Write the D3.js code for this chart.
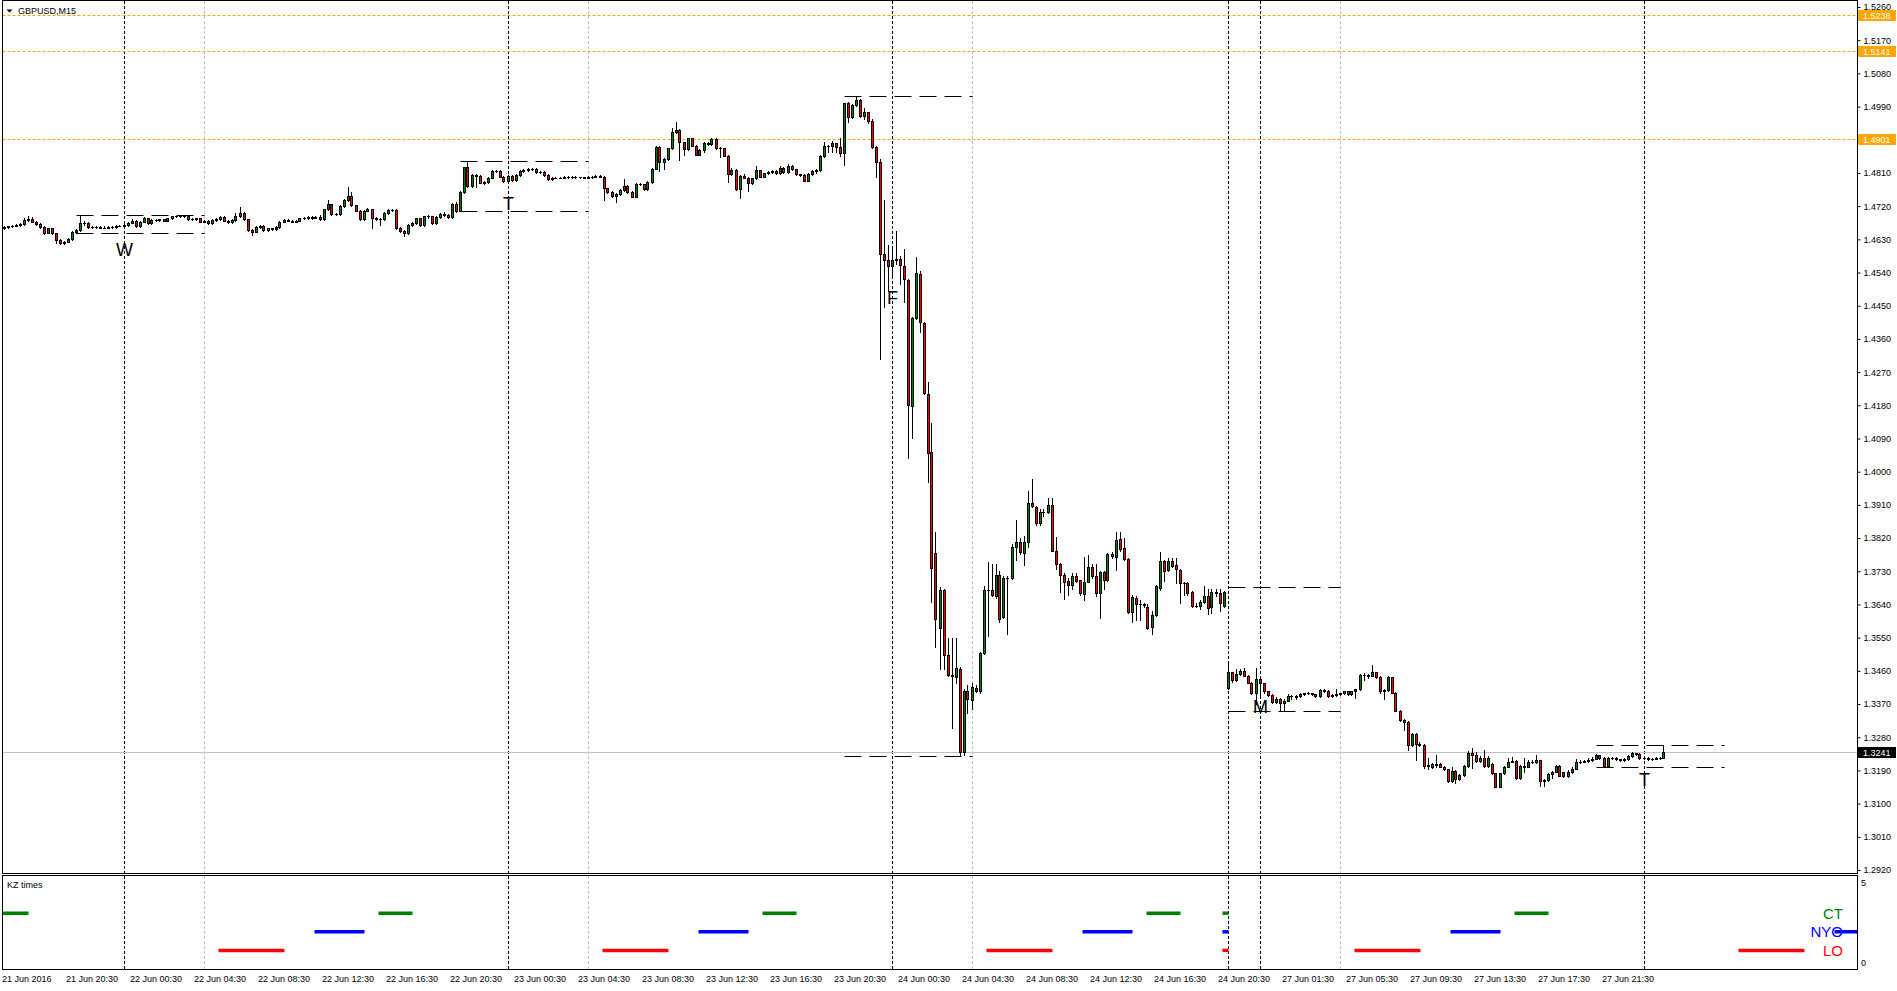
<!doctype html>
<html>
<head>
<meta charset="utf-8">
<script src="https://d3js.org/d3.v7.min.js"></script>
<style>
  body { margin:0; background:#fff; }
  svg { display:block; font-family:"Liberation Sans", Arial, sans-serif; }
</style>
</head>
<body>
<svg id="chart" width="1897" height="991"></svg>
<script>
// GBPUSD M15 bars, one row per bar: [open, high, low, close]
// 21 Jun 16:30 .. 23:45
const day21 = [
[1.4661,1.4666,1.4659,1.4663],[1.4663,1.4667,1.4661,1.4665],[1.4665,1.4669,1.4663,1.4667],[1.4667,1.4671,1.4665,1.4668],
[1.4668,1.4673,1.4666,1.4671],[1.4671,1.4689,1.4669,1.4683],[1.4683,1.4692,1.4681,1.4684],[1.4684,1.4690,1.4676,1.4678],
[1.4678,1.4680,1.4670,1.4672],[1.4672,1.4674,1.4662,1.4664],[1.4664,1.4666,1.4645,1.4648],[1.4648,1.4662,1.4646,1.4660],
[1.4660,1.4662,1.4644,1.4646],[1.4646,1.4648,1.4619,1.4628],[1.4628,1.4630,1.4617,1.4621],[1.4621,1.4626,1.4618,1.4624],
[1.4624,1.4633,1.4622,1.4630],[1.4630,1.4653,1.4628,1.4651],[1.4651,1.4658,1.4647,1.4655],[1.4655,1.4696,1.4653,1.4673],
[1.4673,1.4680,1.4670,1.4675],[1.4675,1.4677,1.4662,1.4664],[1.4664,1.4667,1.4662,1.4664],[1.4664,1.4666,1.4661,1.4663],
[1.4663,1.4665,1.4660,1.4662],[1.4662,1.4665,1.4660,1.4662],[1.4662,1.4666,1.4660,1.4664],[1.4664,1.4666,1.4662,1.4664],
[1.4664,1.4669,1.4662,1.4667],[1.4667,1.4669,1.4665,1.4667]
];
// 22 Jun
const day22 = [
[1.4667,1.4671,1.4665,1.4669],[1.4669,1.4677,1.4667,1.4675],[1.4675,1.4684,1.4673,1.4681],[1.4681,1.4683,1.4664,1.4666],
[1.4666,1.4680,1.4664,1.4678],[1.4678,1.4690,1.4676,1.4687],[1.4687,1.4689,1.4671,1.4673],[1.4673,1.4684,1.4671,1.4682],
[1.4682,1.4685,1.4680,1.4682],[1.4682,1.4686,1.4680,1.4684],[1.4684,1.4686,1.4679,1.4681],[1.4681,1.4689,1.4679,1.4687],
[1.4687,1.4694,1.4685,1.4692],[1.4692,1.4694,1.4690,1.4692],[1.4692,1.4695,1.4690,1.4692],[1.4692,1.4694,1.4690,1.4692],
[1.4692,1.4694,1.4682,1.4684],[1.4684,1.4687,1.4682,1.4685],[1.4685,1.4689,1.4683,1.4687],[1.4687,1.4689,1.4676,1.4678],
[1.4678,1.4683,1.4676,1.4681],[1.4681,1.4683,1.4671,1.4673],[1.4673,1.4685,1.4671,1.4683],[1.4683,1.4687,1.4681,1.4684],
[1.4684,1.4692,1.4682,1.4690],[1.4690,1.4692,1.4679,1.4681],[1.4681,1.4683,1.4674,1.4676],[1.4676,1.4685,1.4674,1.4683],
[1.4683,1.4701,1.4681,1.4692],[1.4692,1.4719,1.4690,1.4701],[1.4701,1.4703,1.4682,1.4684],[1.4684,1.4686,1.4652,1.4654],
[1.4654,1.4657,1.4642,1.4651],[1.4651,1.4666,1.4649,1.4664],[1.4664,1.4668,1.4662,1.4666],[1.4666,1.4668,1.4653,1.4655],
[1.4655,1.4662,1.4653,1.4660],[1.4660,1.4662,1.4655,1.4657],[1.4657,1.4666,1.4655,1.4664],[1.4664,1.4680,1.4662,1.4678],
[1.4678,1.4685,1.4676,1.4683],[1.4683,1.4686,1.4679,1.4681],[1.4681,1.4683,1.4676,1.4678],[1.4678,1.4683,1.4676,1.4681],
[1.4681,1.4689,1.4679,1.4687],[1.4687,1.4690,1.4684,1.4687],[1.4687,1.4694,1.4685,1.4690],[1.4690,1.4692,1.4686,1.4689],
[1.4689,1.4693,1.4687,1.4690],[1.4690,1.4697,1.4683,1.4685],[1.4685,1.4713,1.4683,1.4711],[1.4711,1.4737,1.4709,1.4725],
[1.4725,1.4727,1.4697,1.4699],[1.4699,1.4702,1.4697,1.4699],[1.4699,1.4723,1.4697,1.4721],[1.4721,1.4739,1.4719,1.4737],
[1.4737,1.4773,1.4735,1.4748],[1.4748,1.4759,1.4720,1.4722],[1.4722,1.4724,1.4706,1.4708],[1.4708,1.4710,1.4682,1.4684],
[1.4684,1.4710,1.4682,1.4708],[1.4708,1.4714,1.4706,1.4711],[1.4711,1.4713,1.4660,1.4687],[1.4687,1.4690,1.4682,1.4685],
[1.4685,1.4688,1.4669,1.4684],[1.4684,1.4703,1.4682,1.4701],[1.4701,1.4712,1.4699,1.4710],[1.4710,1.4713,1.4707,1.4710],
[1.4710,1.4712,1.4658,1.4660],[1.4660,1.4664,1.4650,1.4652],[1.4652,1.4655,1.4640,1.4646],[1.4646,1.4671,1.4644,1.4669],
[1.4669,1.4676,1.4667,1.4673],[1.4673,1.4689,1.4671,1.4687],[1.4687,1.4689,1.4666,1.4668],[1.4668,1.4694,1.4666,1.4692],
[1.4692,1.4697,1.4689,1.4692],[1.4692,1.4694,1.4672,1.4674],[1.4674,1.4692,1.4672,1.4690],[1.4690,1.4701,1.4688,1.4699],
[1.4699,1.4703,1.4694,1.4696],[1.4696,1.4699,1.4688,1.4690],[1.4690,1.4729,1.4688,1.4727],[1.4727,1.4732,1.4705,1.4707],
[1.4707,1.4761,1.4707,1.4759],[1.4759,1.4827,1.4757,1.4825],[1.4825,1.4843,1.4773,1.4775],[1.4775,1.4807,1.4773,1.4805],
[1.4805,1.4808,1.4771,1.4803],[1.4803,1.4805,1.4782,1.4784],[1.4784,1.4789,1.4781,1.4786],[1.4786,1.4799,1.4784,1.4797],
[1.4797,1.4817,1.4795,1.4815],[1.4815,1.4819,1.4812,1.4815],[1.4815,1.4818,1.4798,1.4800],[1.4800,1.4802,1.4786,1.4788]
];
// 23 Jun
const day23 = [
[1.4788,1.4804,1.4786,1.4802],[1.4802,1.4804,1.4789,1.4791],[1.4791,1.4807,1.4789,1.4805],[1.4805,1.4817,1.4803,1.4815],
[1.4815,1.4821,1.4813,1.4818],[1.4818,1.4823,1.4816,1.4820],[1.4820,1.4824,1.4818,1.4822],[1.4822,1.4824,1.4810,1.4812],
[1.4812,1.4815,1.4810,1.4812],[1.4812,1.4814,1.4803,1.4805],[1.4805,1.4807,1.4792,1.4794],[1.4794,1.4799,1.4792,1.4797],
[1.4797,1.4799,1.4795,1.4797],[1.4797,1.4799,1.4795,1.4797],[1.4797,1.4801,1.4795,1.4799],[1.4799,1.4802,1.4797,1.4800],
[1.4800,1.4802,1.4797,1.4799],[1.4799,1.4801,1.4796,1.4798],[1.4798,1.4800,1.4796,1.4798],[1.4798,1.4800,1.4795,1.4797],
[1.4797,1.4801,1.4795,1.4799],[1.4799,1.4802,1.4797,1.4800],[1.4800,1.4805,1.4798,1.4802],[1.4802,1.4804,1.4798,1.4800],
[1.4800,1.4802,1.4737,1.4768],[1.4768,1.4770,1.4757,1.4759],[1.4759,1.4761,1.4746,1.4748],[1.4748,1.4755,1.4730,1.4752],
[1.4752,1.4766,1.4750,1.4764],[1.4764,1.4793,1.4762,1.4775],[1.4775,1.4777,1.4757,1.4759],[1.4759,1.4761,1.4744,1.4746],
[1.4746,1.4782,1.4744,1.4780],[1.4780,1.4783,1.4777,1.4779],[1.4779,1.4781,1.4764,1.4766],[1.4766,1.4787,1.4764,1.4785],
[1.4785,1.4824,1.4783,1.4822],[1.4822,1.4883,1.4820,1.4881],[1.4881,1.4883,1.4814,1.4841],[1.4841,1.4850,1.4820,1.4848],
[1.4848,1.4879,1.4846,1.4877],[1.4877,1.4933,1.4875,1.4920],[1.4920,1.4947,1.4918,1.4927],[1.4927,1.4929,1.4845,1.4893],
[1.4893,1.4895,1.4859,1.4875],[1.4875,1.4906,1.4873,1.4904],[1.4904,1.4906,1.4882,1.4884],[1.4884,1.4886,1.4858,1.4860],
[1.4860,1.4874,1.4858,1.4872],[1.4872,1.4893,1.4866,1.4891],[1.4891,1.4894,1.4886,1.4888],[1.4888,1.4904,1.4886,1.4902],
[1.4902,1.4904,1.4875,1.4877],[1.4877,1.4880,1.4852,1.4877],[1.4877,1.4879,1.4855,1.4857],[1.4857,1.4859,1.4786,1.4806],
[1.4806,1.4824,1.4804,1.4818],[1.4818,1.4820,1.4764,1.4766],[1.4766,1.4804,1.4741,1.4802],[1.4802,1.4806,1.4795,1.4797],
[1.4797,1.4799,1.4761,1.4782],[1.4782,1.4797,1.4780,1.4795],[1.4795,1.4830,1.4793,1.4817],[1.4817,1.4819,1.4798,1.4800],
[1.4800,1.4811,1.4798,1.4809],[1.4809,1.4815,1.4807,1.4812],[1.4812,1.4818,1.4810,1.4815],[1.4815,1.4817,1.4807,1.4809],
[1.4809,1.4830,1.4807,1.4824],[1.4824,1.4826,1.4811,1.4813],[1.4813,1.4833,1.4811,1.4829],[1.4829,1.4831,1.4818,1.4820],
[1.4820,1.4822,1.4804,1.4806],[1.4806,1.4808,1.4801,1.4804],[1.4804,1.4806,1.4787,1.4789],[1.4789,1.4809,1.4787,1.4807],
[1.4807,1.4817,1.4805,1.4815],[1.4815,1.4820,1.4811,1.4818],[1.4818,1.4858,1.4816,1.4856],[1.4856,1.4895,1.4854,1.4883],
[1.4883,1.4887,1.4868,1.4883],[1.4883,1.4897,1.4868,1.4890],[1.4890,1.4892,1.4868,1.4881],[1.4881,1.4905,1.4856,1.4865],
[1.4865,1.5001,1.4831,1.4999],[1.4999,1.5003,1.4948,1.4961],[1.4961,1.4996,1.4959,1.4994],[1.4994,1.5020,1.4992,1.5008],
[1.5008,1.5010,1.4963,1.4965],[1.4965,1.4985,1.4956,1.4974],[1.4974,1.4976,1.4945,1.4951],[1.4951,1.4955,1.4879,1.4881],
[1.4881,1.4883,1.4798,1.4841],[1.4841,1.4848,1.4305,1.4590],[1.4590,1.4737,1.4446,1.4574],[1.4574,1.4614,1.4490,1.4559]
];
// 24 Jun 00:00 .. 20:45
const day24 = [
[1.4559,1.4609,1.4530,1.4574],[1.4574,1.4653,1.4564,1.4576],[1.4577,1.4584,1.4510,1.4561],[1.4559,1.4604,1.4461,1.4522],
[1.4520,1.4522,1.4037,1.4180],[1.4177,1.4420,1.4091,1.4417],[1.4417,1.4582,1.4414,1.4538],[1.4535,1.4545,1.4380,1.4405],
[1.4402,1.4405,1.4210,1.4214],[1.4210,1.4244,1.3973,1.4050],[1.4054,1.4131,1.3647,1.3738],[1.3779,1.3837,1.3524,1.3600],
[1.3576,1.3687,1.3465,1.3679],[1.3679,1.3682,1.3465,1.3503],[1.3504,1.3549,1.3445,1.3448],[1.3448,1.3549,1.3304,1.3447],
[1.3443,1.3549,1.3426,1.3467],[1.3465,1.3470,1.3229,1.3240],[1.3240,1.3410,1.3233,1.3406],[1.3404,1.3421,1.3345,1.3383],
[1.3381,1.3426,1.3357,1.3416],[1.3414,1.3421,1.3403,1.3406],[1.3404,1.3512,1.3400,1.3509],[1.3509,1.3689,1.3505,1.3679],
[1.3679,1.3754,1.3554,1.3680],[1.3680,1.3751,1.3662,1.3667],[1.3664,1.3751,1.3657,1.3721],[1.3721,1.3731,1.3593,1.3600],
[1.3605,1.3716,1.3603,1.3712],[1.3712,1.3716,1.3559,1.3712],[1.3712,1.3805,1.3709,1.3797],[1.3797,1.3869,1.3761,1.3810],
[1.3810,1.3820,1.3776,1.3782],[1.3779,1.3825,1.3746,1.3810],[1.3810,1.3948,1.3795,1.3914],[1.3914,1.3980,1.3904,1.3906],
[1.3904,1.3906,1.3856,1.3860],[1.3860,1.3899,1.3855,1.3892],[1.3892,1.3899,1.3879,1.3892],[1.3892,1.3929,1.3889,1.3911],
[1.3909,1.3929,1.3784,1.3786],[1.3786,1.3822,1.3736,1.3749],[1.3751,1.3753,1.3675,1.3721],[1.3721,1.3724,1.3654,1.3702],
[1.3704,1.3712,1.3667,1.3694],[1.3692,1.3726,1.3682,1.3718],[1.3718,1.3726,1.3702,1.3704],[1.3706,1.3707,1.3667,1.3672],
[1.3669,1.3769,1.3652,1.3702],[1.3702,1.3773,1.3700,1.3741],[1.3741,1.3749,1.3711,1.3718],[1.3716,1.3751,1.3664,1.3672],
[1.3672,1.3731,1.3603,1.3728],[1.3728,1.3731,1.3682,1.3705],[1.3705,1.3779,1.3703,1.3776],[1.3776,1.3781,1.3766,1.3771],
[1.3768,1.3837,1.3734,1.3815],[1.3817,1.3837,1.3786,1.3790],[1.3792,1.3820,1.3761,1.3764],[1.3764,1.3766,1.3618,1.3620],
[1.3620,1.3667,1.3593,1.3659],[1.3657,1.3662,1.3598,1.3640],[1.3640,1.3651,1.3598,1.3640],[1.3640,1.3645,1.3633,1.3638],
[1.3633,1.3640,1.3573,1.3575],[1.3578,1.3623,1.3561,1.3611],[1.3611,1.3692,1.3608,1.3689],[1.3684,1.3783,1.3679,1.3758],
[1.3758,1.3761,1.3704,1.3731],[1.3734,1.3766,1.3731,1.3758],[1.3758,1.3766,1.3741,1.3743],[1.3746,1.3766,1.3699,1.3736],
[1.3734,1.3736,1.3643,1.3697],[1.3697,1.3702,1.3667,1.3697],[1.3697,1.3702,1.3667,1.3672],[1.3675,1.3677,1.3633,1.3635],
[1.3635,1.3643,1.3633,1.3635],[1.3635,1.3652,1.3628,1.3647],[1.3647,1.3689,1.3645,1.3662],[1.3662,1.3682,1.3613,1.3631],
[1.3633,1.3682,1.3618,1.3675],[1.3675,1.3682,1.3662,1.3672],[1.3672,1.3682,1.3623,1.3643],[1.3635,1.3677,1.3633,1.3675]
];
// 26 Jun 22:00 .. 27 Jun 23:45
const day27 = [
[1.3414,1.3482,1.3410,1.3456],[1.3456,1.3458,1.3430,1.3435],[1.3435,1.3464,1.3432,1.3451],[1.3451,1.3464,1.3449,1.3460],
[1.3460,1.3467,1.3445,1.3447],[1.3447,1.3449,1.3426,1.3428],[1.3428,1.3430,1.3398,1.3401],[1.3401,1.3467,1.3370,1.3437],
[1.3437,1.3444,1.3386,1.3426],[1.3426,1.3428,1.3399,1.3404],[1.3404,1.3406,1.3392,1.3395],[1.3395,1.3397,1.3372,1.3376],
[1.3376,1.3388,1.3372,1.3385],[1.3385,1.3387,1.3354,1.3372],[1.3372,1.3383,1.3354,1.3379],[1.3379,1.3397,1.3377,1.3392],
[1.3392,1.3395,1.3383,1.3392],[1.3388,1.3394,1.3383,1.3392],[1.3392,1.3399,1.3390,1.3396],[1.3396,1.3401,1.3394,1.3399],
[1.3399,1.3403,1.3396,1.3399],[1.3399,1.3401,1.3394,1.3396],[1.3396,1.3398,1.3390,1.3392],[1.3392,1.3410,1.3390,1.3408],
[1.3408,1.3412,1.3403,1.3405],[1.3405,1.3407,1.3390,1.3392],[1.3392,1.3397,1.3390,1.3395],[1.3395,1.3412,1.3393,1.3397],
[1.3397,1.3401,1.3395,1.3399],[1.3399,1.3406,1.3397,1.3404],[1.3404,1.3406,1.3394,1.3396],[1.3396,1.3406,1.3394,1.3404],
[1.3404,1.3412,1.3387,1.3410],[1.3410,1.3451,1.3408,1.3449],[1.3449,1.3453,1.3435,1.3449],[1.3449,1.3451,1.3440,1.3447],
[1.3447,1.3476,1.3445,1.3456],[1.3456,1.3458,1.3441,1.3443],[1.3443,1.3445,1.3401,1.3404],[1.3404,1.3412,1.3383,1.3408],
[1.3408,1.3446,1.3406,1.3442],[1.3442,1.3444,1.3399,1.3401],[1.3401,1.3403,1.3350,1.3352],[1.3352,1.3354,1.3325,1.3327],
[1.3327,1.3329,1.3300,1.3322],[1.3322,1.3324,1.3246,1.3259],[1.3259,1.3292,1.3257,1.3290],[1.3290,1.3292,1.3219,1.3263],
[1.3263,1.3267,1.3255,1.3259],[1.3259,1.3261,1.3196,1.3202],[1.3202,1.3225,1.3193,1.3205],[1.3200,1.3209,1.3196,1.3207],
[1.3207,1.3232,1.3200,1.3205],[1.3207,1.3209,1.3198,1.3200],[1.3200,1.3202,1.3191,1.3193],[1.3193,1.3195,1.3159,1.3161],
[1.3161,1.3200,1.3159,1.3188],[1.3188,1.3190,1.3157,1.3166],[1.3166,1.3180,1.3164,1.3177],[1.3177,1.3204,1.3175,1.3202],
[1.3202,1.3242,1.3200,1.3236],[1.3236,1.3250,1.3196,1.3232],[1.3232,1.3241,1.3213,1.3215],[1.3215,1.3228,1.3213,1.3225],
[1.3225,1.3245,1.3200,1.3202],[1.3202,1.3228,1.3200,1.3225],[1.3207,1.3209,1.3180,1.3182],[1.3182,1.3184,1.3144,1.3146],
[1.3146,1.3184,1.3144,1.3182],[1.3182,1.3202,1.3180,1.3200],[1.3200,1.3223,1.3198,1.3214],[1.3214,1.3227,1.3212,1.3216],
[1.3216,1.3218,1.3167,1.3169],[1.3169,1.3204,1.3167,1.3202],[1.3202,1.3223,1.3187,1.3200],[1.3200,1.3218,1.3198,1.3214],
[1.3214,1.3218,1.3210,1.3212],[1.3212,1.3232,1.3210,1.3217],[1.3217,1.3219,1.3149,1.3162],[1.3162,1.3167,1.3149,1.3164],
[1.3164,1.3182,1.3162,1.3180],[1.3180,1.3189,1.3170,1.3187],[1.3187,1.3205,1.3185,1.3203],[1.3203,1.3205,1.3174,1.3176],
[1.3185,1.3187,1.3173,1.3175],[1.3175,1.3190,1.3173,1.3186],[1.3186,1.3198,1.3184,1.3195],[1.3195,1.3222,1.3193,1.3212],
[1.3212,1.3218,1.3210,1.3214],[1.3214,1.3219,1.3212,1.3216],[1.3216,1.3223,1.3214,1.3218],[1.3218,1.3227,1.3216,1.3222],
[1.3222,1.3234,1.3220,1.3231],[1.3231,1.3233,1.3221,1.3223],[1.3223,1.3227,1.3200,1.3202],[1.3202,1.3227,1.3200,1.3225],
[1.3225,1.3227,1.3221,1.3224],[1.3224,1.3226,1.3218,1.3220],[1.3220,1.3222,1.3216,1.3218],[1.3218,1.3223,1.3216,1.3220],
[1.3220,1.3231,1.3218,1.3229],[1.3229,1.3239,1.3227,1.3236],[1.3236,1.3238,1.3231,1.3234],[1.3234,1.3238,1.3222,1.3224]
];
// 28 Jun 00:00 .. 01:15
const day28 = [
[1.3224,1.3228,1.3221,1.3225],[1.3225,1.3227,1.3219,1.3221],[1.3221,1.3225,1.3219,1.3222],[1.3222,1.3226,1.3220,1.3223],
[1.3223,1.3227,1.3221,1.3225],[1.3225,1.3259,1.3224,1.3241]
];

// bar index of each time label and its text
const timeBars   = [0,16,32,48,64,80,96,112,128,144,160,176,192,208,224,240,256,272,288,304,320,336,352,368,384,400];
const timeLabels = ["21 Jun 2016","21 Jun 20:30","22 Jun 00:30","22 Jun 04:30","22 Jun 08:30","22 Jun 12:30","22 Jun 16:30",
  "22 Jun 20:30","23 Jun 00:30","23 Jun 04:30","23 Jun 08:30","23 Jun 12:30","23 Jun 16:30","23 Jun 20:30","24 Jun 00:30",
  "24 Jun 04:30","24 Jun 08:30","24 Jun 12:30","24 Jun 16:30","24 Jun 20:30","27 Jun 01:30","27 Jun 05:30","27 Jun 09:30",
  "27 Jun 13:30","27 Jun 17:30","27 Jun 21:30"];
const priceTicks = [1.5260,1.5170,1.5080,1.4990,1.4810,1.4720,1.4630,1.4540,1.4450,1.4360,1.4270,1.4180,1.4090,
  1.4000,1.3910,1.3820,1.3730,1.3640,1.3550,1.3460,1.3370,1.3280,1.3190,1.3100,1.3010,1.2920];

// day separators (black) and 05:00 lines (grey), as bar indices
const daySeps  = [30,126,222,306,314,410];
const fiveAm   = [50,146,242,334];
// orange levels and current bid
const levels   = [1.5238,1.5141,1.4901];
const bid      = 1.3241;
// 21:00-05:00 range boxes: start bar, end bar, high, low
const rangeStart = [18,114,210,306,398];
const rangeEnd   = [50,146,242,334,430];
const rangeHigh  = [1.4696,1.4843,1.5020,1.3688,1.3259];
const rangeLow   = [1.4647,1.4707,1.3229,1.3352,1.3199];
// day letters
const letters      = ["W","T","F","M","T"];
const letterBars   = [30,126,222,314,410];
const letterPrices = [1.4620,1.4745,1.4490,1.3381,1.3183];

// KZ times indicator segments [fromBar, toBar]
const ctSegs  = [[-2,6],[94,102],[190,198],[286,294],[305,306],[378,386]];
const nyoSegs = [[78,90],[174,186],[270,282],[305,306],[362,374],[458,470]];
const loSegs  = [[54,70],[150,166],[246,262],[305,306],[338,354],[434,450]];
const kzLevel = {ct:3, nyo:2, lo:1};

const bars = [].concat(day21, day22, day23, day24, day27, day28);

const svg = d3.select("#chart");
const L = 2.5, R = 1857.5, T0 = 0.5, B0 = 873.5, T1 = 875.5, B1 = 969.5;

const x = d3.scaleLinear().domain([0, 463]).range([3.5, 3.5 + 463 * 4]);
const y = d3.scaleLinear().domain([1.2920, 1.5260]).range([870, 7]);
const ySub = d3.scaleLinear().domain([0, 5]).range([969, 876]);
const px = i => Math.round(x(i)) + 0.5;
const py = v => Math.round(y(v)) + 0.5;

const defs = svg.append("defs");
defs.append("clipPath").attr("id", "clipMain").append("rect")
  .attr("x", L + 0.5).attr("y", T0 + 0.5).attr("width", R - L - 1).attr("height", B0 - T0 - 1);
defs.append("clipPath").attr("id", "clipSub").append("rect")
  .attr("x", L + 0.5).attr("y", T1 + 0.5).attr("width", R - L - 1).attr("height", B1 - T1 - 1);

// vertical lines through both panels
const vg = svg.append("g");
vg.selectAll("line.grey").data(fiveAm).join("line")
  .attr("x1", d => px(d)).attr("x2", d => px(d)).attr("y1", 1).attr("y2", 969)
  .attr("stroke", "#c0c0c0").attr("stroke-dasharray", "3,2");
vg.selectAll("line.sep").data(daySeps).join("line")
  .attr("x1", d => px(d)).attr("x2", d => px(d)).attr("y1", 1).attr("y2", 969)
  .attr("stroke", "#000").attr("stroke-dasharray", "3,2");

const main = svg.append("g").attr("clip-path", "url(#clipMain)");

main.selectAll("line.level").data(levels).join("line")
  .attr("x1", L).attr("x2", R).attr("y1", d => py(d)).attr("y2", d => py(d))
  .attr("stroke", "#FFA500").attr("stroke-dasharray", "3,2");
main.append("line").attr("x1", L).attr("x2", R).attr("y1", py(bid)).attr("y2", py(bid))
  .attr("stroke", "#c0c0c0");

// range lines
rangeStart.forEach((s, k) => {
  [rangeHigh[k], rangeLow[k]].forEach(v => {
    main.append("line").attr("x1", px(s)).attr("x2", px(rangeEnd[k]))
      .attr("y1", py(v)).attr("y2", py(v))
      .attr("stroke", "#000").attr("stroke-dasharray", "17,8");
  });
});

// candles
const cg = main.append("g");
bars.forEach((b, i) => {
  const [o, h, l, c] = b;
  const cx = px(i);
  cg.append("line").attr("x1", cx).attr("x2", cx).attr("y1", Math.round(y(h))).attr("y2", Math.round(y(l)) + 1)
    .attr("stroke", "#000");
  const top = Math.round(y(Math.max(o, c))), bot = Math.round(y(Math.min(o, c)));
  if (bot - top < 1) {
    cg.append("line").attr("x1", cx - 1.5).attr("x2", cx + 1.5).attr("y1", top + 0.5).attr("y2", top + 0.5)
      .attr("stroke", "#000");
  } else {
    cg.append("rect").attr("x", cx - 1).attr("y", top + 0.5).attr("width", 2).attr("height", bot - top)
      .attr("fill", c >= o ? "#008000" : "#ff0000").attr("stroke", "#000");
  }
});

// letters
main.selectAll("text.day").data(letters).join("text")
  .attr("x", (d, k) => x(letterBars[k]) + 1).attr("y", (d, k) => y(letterPrices[k]) + 13)
  .attr("text-anchor", "middle").attr("font-size", 18).attr("fill", "#000").text(d => d);

// frames
svg.append("rect").attr("x", L).attr("y", T0).attr("width", R - L).attr("height", B0 - T0)
  .attr("fill", "none").attr("stroke", "#000");
svg.append("rect").attr("x", L).attr("y", T1).attr("width", R - L).attr("height", B1 - T1)
  .attr("fill", "none").attr("stroke", "#000");

// title
svg.append("path").attr("d", "M6.5,9.5 L12.5,9.5 L9.5,12.5 Z").attr("fill", "#000");
svg.append("text").attr("x", 18).attr("y", 14).attr("font-size", 9).attr("fill", "#000").text("GBPUSD,M15");

// price axis
const ya = svg.append("g").attr("transform", `translate(${R},0)`)
  .call(d3.axisRight(y).tickValues(priceTicks).tickSize(3).tickPadding(3).tickFormat(d3.format(".4f")));
ya.select(".domain").remove();
ya.selectAll("text").attr("font-size", 9).attr("font-family", "Liberation Sans, Arial, sans-serif").attr("fill", "#000");
ya.selectAll("line").attr("stroke", "#000");

// price tags
const tags = levels.map(v => ({v, bg: "#FFA500"})).concat([{v: bid, bg: "#000"}]);
tags.forEach(t => {
  const yy = Math.round(y(t.v));
  svg.append("rect").attr("x", 1858).attr("y", yy - 5).attr("width", 38).attr("height", 11).attr("fill", t.bg);
  svg.append("text").attr("x", 1863).attr("y", yy + 3.5).attr("font-size", 9).attr("fill", "#fff")
    .text(d3.format(".4f")(t.v));
});

// time axis
const xa = svg.append("g").attr("transform", `translate(0,${B1})`)
  .call(d3.axisBottom(x).tickValues(timeBars).tickSize(0).tickPadding(6).tickFormat((d, k) => timeLabels[k]));
xa.select(".domain").remove();
xa.selectAll("text").attr("text-anchor", "start").attr("dx", -2).attr("font-size", 9)
  .attr("font-family", "Liberation Sans, Arial, sans-serif").attr("fill", "#000");

// indicator panel
svg.append("text").attr("x", 7).attr("y", 888).attr("font-size", 9).attr("fill", "#000").text("KZ times");
svg.append("text").attr("x", 1861).attr("y", ySub(5) + 10).attr("font-size", 9).attr("fill", "#000").text("5");
svg.append("text").attr("x", 1861).attr("y", ySub(0) - 3).attr("font-size", 9).attr("fill", "#000").text("0");

const sub = svg.append("g").attr("clip-path", "url(#clipSub)");
const kz = [
  {segs: ctSegs, lvl: kzLevel.ct, col: "#008000", name: "CT"},
  {segs: nyoSegs, lvl: kzLevel.nyo, col: "#0000ff", name: "NYO"},
  {segs: loSegs, lvl: kzLevel.lo, col: "#ff0000", name: "LO"}
];
kz.forEach(k => {
  sub.append("text").attr("x", 1843).attr("y", ySub(k.lvl) + 5.5).attr("text-anchor", "end")
    .attr("font-size", 15).attr("fill", k.col).text(k.name);
});
kz.forEach(k => {
  sub.selectAll(null).data(k.segs).join("line")
    .attr("x1", d => x(d[0]) - 1).attr("x2", d => x(d[1]) + 1)
    .attr("y1", ySub(k.lvl)).attr("y2", ySub(k.lvl))
    .attr("stroke", k.col).attr("stroke-width", 3.5);
});
</script>
</body>
</html>
